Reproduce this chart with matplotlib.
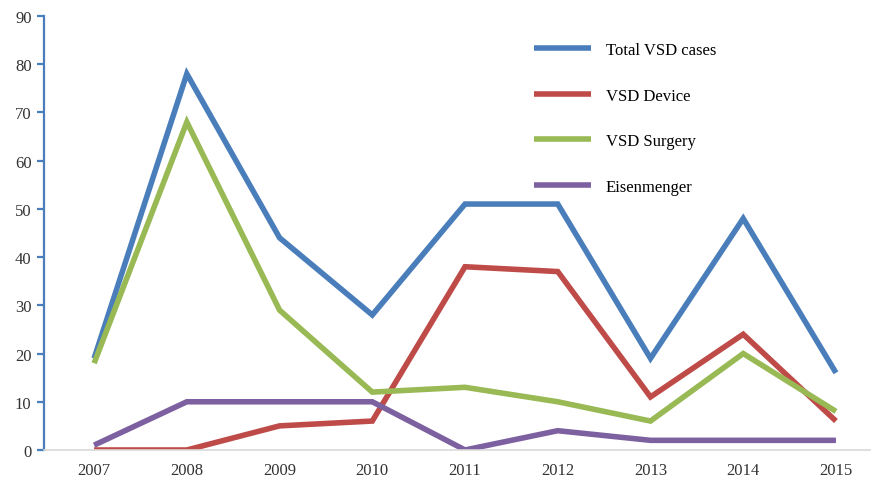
import matplotlib.pyplot as plt

# Yearly VSD case counts
years = ['2007', '2008', '2009', '2010', '2011', '2012', '2013', '2014', '2015']
total_vsd = [19, 78, 44, 28, 51, 51, 19, 48, 16]
vsd_device = [0, 0, 5, 6, 38, 37, 11, 24, 6]
vsd_surgery = [18, 68, 29, 12, 13, 10, 6, 20, 8]
eisenmenger = [1, 10, 10, 10, 0, 4, 2, 2, 2]

series = [
    ('Total VSD cases', total_vsd, '#4A7EBB'),
    ('VSD Device', vsd_device, '#BE4B48'),
    ('VSD Surgery', vsd_surgery, '#98B954'),
    ('Eisenmenger', eisenmenger, '#7D60A0'),
]

plt.rcParams['font.family'] = ['Liberation Serif', 'DejaVu Serif']

fig = plt.figure(figsize=(8.72, 4.81), dpi=100)
ax = fig.add_axes([0.0505, 0.0624, 0.9475, 0.9023])

x = list(range(len(years)))
for label, values, color in series:
    ax.plot(x, values, color=color, linewidth=4.0, label=label,
            solid_joinstyle='miter', solid_capstyle='butt')

ax.set_xlim(-0.54, 8.37)
ax.set_ylim(0, 90)
ax.set_yticks(range(0, 91, 10))
ax.set_xticks(x)
ax.set_xticklabels(years)

for side in ('top', 'right'):
    ax.spines[side].set_visible(False)
ax.spines['left'].set_color('#4A7EBB')
ax.spines['left'].set_linewidth(1.6)
ax.spines['bottom'].set_color('#D9D9D9')
ax.spines['bottom'].set_linewidth(1.2)

ax.tick_params(axis='y', direction='out', length=5, width=1.6, color='#4A7EBB',
               labelsize=12, labelcolor='#333333', pad=4)
ax.tick_params(axis='x', length=0, labelsize=12, labelcolor='#333333', pad=9)

ax.legend(loc='upper left', bbox_to_anchor=(0.593, 0.94), frameon=False,
          fontsize=12, handlelength=3.4, handletextpad=0.9, labelspacing=1.77,
          borderpad=0, borderaxespad=0)

fig.savefig('out.png', dpi=100)
